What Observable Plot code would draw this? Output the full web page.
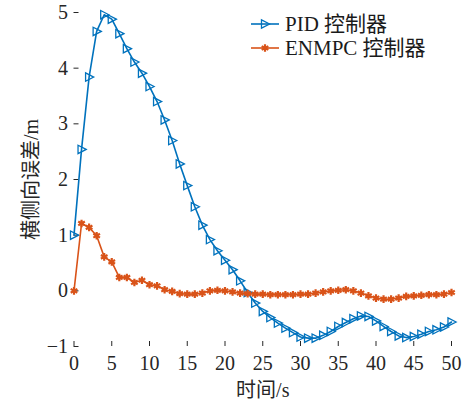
<!DOCTYPE html>
<html>
<head>
<meta charset="utf-8">
<script src="https://cdn.jsdelivr.net/npm/d3@7"></script>
<script src="https://cdn.jsdelivr.net/npm/@observablehq/plot@0.6"></script>
<style>
  html, body { margin: 0; padding: 0; background: #fff; }
  #wrap { position: relative; width: 468px; height: 401px; }
  #wrap svg text { font-family: "Liberation Serif", "Noto Sans CJK SC", serif; }
  #legend { position: absolute; left: 250px; top: 12px; font-family: "Liberation Serif", "Noto Sans CJK SC", serif; font-size: 21px; color: #1a1a1a; line-height: 24px; }
  #legend .row { display: flex; align-items: center; height: 24px; }
  #legend svg { margin-right: 5px; }
</style>
</head>
<body>
<div id="wrap"></div>
<script>
// time axis (s)
const time = [0,1,2,3,4,5,6,7,8,9,10,11,12,13,14,15,16,17,18,19,20,21,22,23,24,25,26,27,28,29,30,31,32,33,34,35,36,37,38,39,40,41,42,43,44,45,46,47,48,49,50];
// PID controller lateral error (m)
const pid = [1.00,2.54,3.84,4.66,4.96,4.88,4.62,4.35,4.11,3.91,3.67,3.40,3.07,2.70,2.28,1.89,1.51,1.18,0.92,0.72,0.55,0.38,0.18,-0.03,-0.22,-0.37,-0.48,-0.58,-0.67,-0.75,-0.83,-0.85,-0.85,-0.80,-0.73,-0.64,-0.57,-0.50,-0.45,-0.46,-0.54,-0.64,-0.73,-0.81,-0.84,-0.82,-0.78,-0.73,-0.70,-0.65,-0.56];
// ENMPC controller lateral error (m)
const enmpc = [0,1.21,1.14,0.99,0.61,0.52,0.24,0.24,0.15,0.19,0.11,0.09,0.02,-0.01,-0.05,-0.06,-0.06,-0.04,0.00,0.01,0.00,-0.02,-0.04,-0.05,-0.06,-0.06,-0.07,-0.07,-0.07,-0.07,-0.06,-0.06,-0.04,-0.02,0.00,0.01,0.02,0.00,-0.04,-0.09,-0.13,-0.15,-0.15,-0.13,-0.10,-0.09,-0.08,-0.07,-0.07,-0.06,-0.03];
const seriesNames = ["PID 控制器", "ENMPC 控制器"];
const xTicks = [0,5,10,15,20,25,30,35,40,45,50];
const yTicks = [-1,0,1,2,3,4,5];
const xLabel = "时间/s";
const yLabel = "横侧向误差/m";

const colors = ["#0072BD", "#D95319"];
const W = 468, H = 401;
const mL = 73.5, mR = 17, mT = 12, mB = 55;
const plotW = W - mL - mR, plotH = H - mT - mB;
const tickLen = 5;

const triRight = {
  draw(ctx, size) {
    const r = Math.sqrt(size / Math.PI);
    ctx.moveTo(r * 1.05, 0);
    ctx.lineTo(-r * 0.8, -r * 0.95);
    ctx.lineTo(-r * 0.8, r * 0.95);
    ctx.closePath();
  }
};

const pidData = time.map((t, i) => ({t, v: pid[i]}));
const enData = time.map((t, i) => ({t, v: enmpc[i]}));

const font = '"Liberation Serif", "Noto Sans CJK SC", serif';
const fmt = d3.format("d");

const chart = Plot.plot({
  width: W, height: H,
  marginLeft: mL, marginRight: mR, marginTop: mT, marginBottom: mB,
  style: {fontFamily: font, fontSize: "20px", color: "#262626", background: "#fff", overflow: "visible"},
  x: {domain: [0, 50]},
  y: {domain: [-1, 5]},
  marks: [
    Plot.axisX({ticks: xTicks, tickFormat: fmt, tickSize: 0, tickPadding: 9, line: true, label: xLabel, labelAnchor: "center", labelOffset: 50, labelArrow: "none", fontSize: 20, fontFamily: font}),
    Plot.axisY({ticks: yTicks, tickFormat: fmt, tickSize: 0, tickPadding: 6, line: true, label: yLabel, labelAnchor: "center", labelOffset: 50, labelArrow: "none", fontSize: 20, fontFamily: font}),
    Plot.tickX(xTicks, {x: d => d, insetTop: plotH - tickLen, stroke: "#262626", strokeWidth: 1}),
    Plot.tickY(yTicks, {y: d => d, insetRight: plotW - tickLen, stroke: "#262626", strokeWidth: 1}),
    Plot.line(pidData, {x: "t", y: "v", stroke: colors[0], strokeWidth: 1.6}),
    Plot.dot(pidData, {x: "t", y: "v", symbol: triRight, r: 4.4, stroke: colors[0], fill: "none", strokeWidth: 1.3}),
    Plot.line(enData, {x: "t", y: "v", stroke: colors[1], strokeWidth: 1.6}),
    Plot.dot(enData, {x: "t", y: "v", symbol: "asterisk", r: 3.6, stroke: colors[1], strokeWidth: 2.2})
  ]
});

const wrap = document.getElementById("wrap");
wrap.appendChild(chart);

// legend (inside the plot area, top right)
const legend = document.createElement("div");
legend.id = "legend";
seriesNames.forEach((name, i) => {
  const row = document.createElement("div");
  row.className = "row";
  const sw = d3.create("svg").attr("width", 30).attr("height", 14);
  sw.append("line").attr("x1", 1).attr("x2", 29).attr("y1", 7).attr("y2", 7).attr("stroke", colors[i]).attr("stroke-width", 1.6);
  if (i === 0) {
    const r = 4.4;
    sw.append("path").attr("d", `M${15 + r * 1.05},7L${15 - r * 0.8},${7 - r * 0.95}L${15 - r * 0.8},${7 + r * 0.95}Z`).attr("fill", "none").attr("stroke", colors[i]).attr("stroke-width", 1.3);
  } else {
    sw.append("path").attr("d", d3.symbol(d3.symbolAsterisk, Math.PI * 3.6 * 3.6)()).attr("transform", "translate(15,7)").attr("stroke", colors[i]).attr("stroke-width", 2.2).attr("fill", "none");
  }
  row.appendChild(sw.node());
  const span = document.createElement("span");
  span.textContent = name;
  row.appendChild(span);
  legend.appendChild(row);
});
wrap.appendChild(legend);
</script>
</body>
</html>
